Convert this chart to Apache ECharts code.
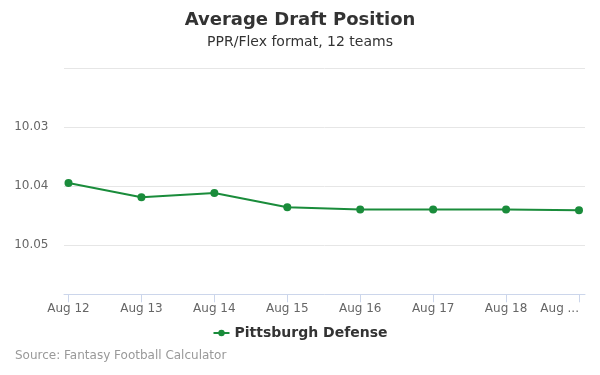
<!DOCTYPE html>
<html>
<head>
<meta charset="utf-8">
<script src="https://cdn.jsdelivr.net/npm/echarts@6/dist/echarts.min.js"></script>
<style>
  html, body { margin: 0; padding: 0; background: #fff; }
  #chart { width: 600px; height: 375px; }
</style>
</head>
<body>
<div id="chart"></div>
<script>
// 日期 / 平均选秀位置
var categories = ['Aug 12', 'Aug 13', 'Aug 14', 'Aug 15', 'Aug 16', 'Aug 17', 'Aug 18', 'Aug 19'];
var adpValues = [10.0395, 10.0419, 10.0412, 10.0436, 10.0440, 10.0440, 10.0440, 10.0441];
var yTickLabels = [10.03, 10.04, 10.05];
var seriesName = 'Pittsburgh Defense';
var lineColor = '#1a8c3b';
var yMin = 10.02, yMax = 10.0584, yStep = 0.01;

var chart = echarts.init(document.getElementById('chart'));
chart.setOption({
  animation: false,
  title: [
    {
      text: 'Average Draft Position',
      left: 'center',
      top: 6,
      textStyle: { fontFamily: 'DejaVu Sans', fontSize: 18, fontWeight: 'bold', color: '#333' }
    },
    {
      text: 'PPR/Flex format, 12 teams',
      left: 'center',
      top: 30,
      textStyle: { fontFamily: 'DejaVu Sans', fontSize: 14, fontWeight: 'normal', color: '#333' }
    },
    {
      text: 'Source: Fantasy Football Calculator',
      left: 10,
      top: 345,
      textStyle: { fontFamily: 'DejaVu Sans', fontSize: 12, fontWeight: 'normal', color: '#999' }
    }
  ],
  legend: {
    data: [seriesName],
    left: 'center',
    top: 321,
    itemWidth: 16,
    itemHeight: 8,
    textStyle: { fontFamily: 'DejaVu Sans', fontSize: 14, fontWeight: 'bold', color: '#333' }
  },
  grid: [
    { left: 68.5, right: 21, top: 68.3, bottom: 80.7 },
    // 仅用于绘制更宽的x轴线和网格线
    { left: 64, right: 15, top: 68.3, bottom: 80.7 }
  ],
  xAxis: [
    {
      type: 'category',
      gridIndex: 0,
      data: categories,
      boundaryGap: false,
      axisLine: { show: false },
      axisTick: { show: true, length: 8, lineStyle: { color: '#ccd6eb' } },
      axisLabel: {
        fontFamily: 'DejaVu Sans',
        fontSize: 12,
        color: '#666',
        margin: 9,
        alignMaxLabel: 'right',
        formatter: function (v, i) {
          return i === categories.length - 1 ? 'Aug ...' : v;
        }
      }
    },
    {
      type: 'value',
      gridIndex: 1,
      min: 0,
      max: 1,
      axisLine: { show: true, lineStyle: { color: '#ccd6eb', width: 1 } },
      axisTick: { show: false },
      axisLabel: { show: false },
      splitLine: { show: false }
    }
  ],
  yAxis: [
    {
      type: 'value',
      gridIndex: 0,
      inverse: true,
      min: yMin,
      max: yMax,
      interval: yStep,
      axisLine: { show: false },
      axisTick: { show: false },
      splitLine: { show: false },
      axisLabel: {
        fontFamily: 'DejaVu Sans',
        fontSize: 12,
        color: '#666',
        margin: 20,
        padding: [4, 0, 0, 0],
        formatter: function (v) {
          for (var i = 0; i < yTickLabels.length; i++) {
            if (Math.abs(v - yTickLabels[i]) < 1e-6) return yTickLabels[i].toFixed(2);
          }
          return '';
        }
      }
    },
    {
      type: 'value',
      gridIndex: 1,
      inverse: true,
      min: yMin,
      max: yMax,
      interval: yStep,
      axisLine: { show: false },
      axisTick: { show: false },
      axisLabel: { show: false },
      splitLine: { lineStyle: { color: '#e6e6e6' } }
    }
  ],
  series: [
    {
      name: seriesName,
      type: 'line',
      xAxisIndex: 0,
      yAxisIndex: 0,
      data: adpValues,
      symbol: 'circle',
      symbolSize: 8,
      itemStyle: { color: lineColor },
      lineStyle: { color: lineColor, width: 2 }
    }
  ]
});
</script>
</body>
</html>
